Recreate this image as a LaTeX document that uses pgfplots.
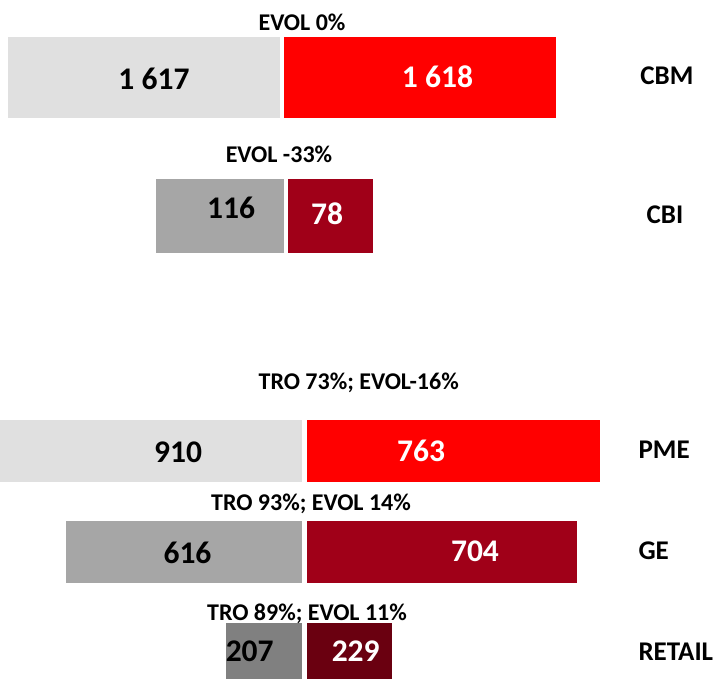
\documentclass[border=0pt]{standalone}
\usepackage{fontspec}
\setmainfont{Carlito}
\usepackage{pgfplots}
\pgfplotsset{compat=1.18}
\definecolor{lgrey}{RGB}{224,224,224}
\definecolor{mgrey}{RGB}{166,166,166}
\definecolor{dgrey}{RGB}{128,128,128}
\definecolor{bred}{RGB}{255,0,0}
\definecolor{dred}{RGB}{160,0,24}
\definecolor{ddred}{RGB}{106,0,16}
\begin{document}
\begin{tikzpicture}[
 val/.style={anchor=base, font=\bfseries\fontsize{31.5}{36}\selectfont},
 cat/.style={anchor=base, font=\bfseries\fontsize{27}{32}\selectfont},
 ann/.style={anchor=base, font=\bfseries\fontsize{24}{28}\selectfont}]
\useasboundingbox (0,0) rectangle (717pt,679pt);
\pgfplotsset{bb/.style={hide axis, scale only axis, width=717pt, clip=false, anchor=south west},
 hb/.style={xbar, bar shift=0pt, draw=white, line width=4.4pt}}
% CBM
\begin{axis}[bb, at={(0pt,551.65pt)}, height=100pt, xmin=-1651, xmax=2547, ymin=-0.5, ymax=0.5]
\addplot[hb, bar width=85.7pt, fill=lgrey] coordinates {(-1617,0)};
\addplot[hb, bar width=85.7pt, fill=bred] coordinates {(1618,0)};
\node[val] at (axis cs:-749.4,-0.12) {1 617};
\node[val, text=white] at (axis cs:910.4,-0.1015) {1 618};
\node[cat] at (axis cs:2254,-0.0765) {CBM};
\node[ann] at (axis cs:117.1,0.4665) {EVOL 0\%};
\end{axis}
% CBI
\begin{axis}[bb, at={(0pt,412.85pt)}, height=100pt, xmin=-250.1, xmax=376.5, ymin=-0.5, ymax=0.5]
\addplot[hb, bar width=78.7pt, fill=mgrey] coordinates {(-116,0)};
\addplot[hb, bar width=78.7pt, fill=dred] coordinates {(78,0)};
\node[val] at (axis cs:-48.2,-0.0215) {116};
\node[val, text=white] at (axis cs:35.7,-0.0885) {78};
\node[cat] at (axis cs:331,-0.0785) {CBI};
\node[ann] at (axis cs:-6.3,0.5345) {EVOL -33\%};
\end{axis}
% PME, GE, RETAIL
\begin{axis}[bb, at={(0pt,-25.225pt)}, height=304.05pt, xmin=-780.2, xmax=1056.9, ymin=-0.5, ymax=2.5]
\addplot[hb, bar width=65.9pt, fill=lgrey] coordinates {(-910,2)};
\addplot[hb, bar width=65.9pt, fill=bred] coordinates {(763,2)};
\addplot[hb, bar width=65.9pt, fill=mgrey] coordinates {(-616,1)};
\addplot[hb, bar width=65.9pt, fill=dred] coordinates {(704,1)};
\addplot[hb, bar width=65.9pt, fill=dgrey] coordinates {(-207,0)};
\addplot[hb, bar width=65.9pt, fill=ddred] coordinates {(229,0)};
\node[val] at (axis cs:-324.1,1.883) {910};
\node[val, text=white] at (axis cs:298.5,1.893) {763};
\node[val] at (axis cs:-299.8,0.8905) {616};
\node[val, text=white] at (axis cs:436.8,0.913) {704};
\node[val] at (axis cs:-140.4,-0.0804) {207};
\node[val, text=white] at (axis cs:131.2,-0.0804) {229};
\node[cat, anchor=base west] at (axis cs:846.8,1.926) {PME};
\node[cat, anchor=base west] at (axis cs:846.8,0.930) {GE};
\node[cat, anchor=base west] at (axis cs:846.8,-0.0735) {RETAIL};
\node[ann] at (axis cs:138.9,2.607) {TRO 73\%; EVOL-16\%};
\node[ann] at (axis cs:16.7,1.4065) {TRO 93\%; EVOL 14\%};
\node[ann] at (axis cs:6.4,0.331) {TRO 89\%; EVOL 11\%};
\end{axis}
\end{tikzpicture}
\end{document}
